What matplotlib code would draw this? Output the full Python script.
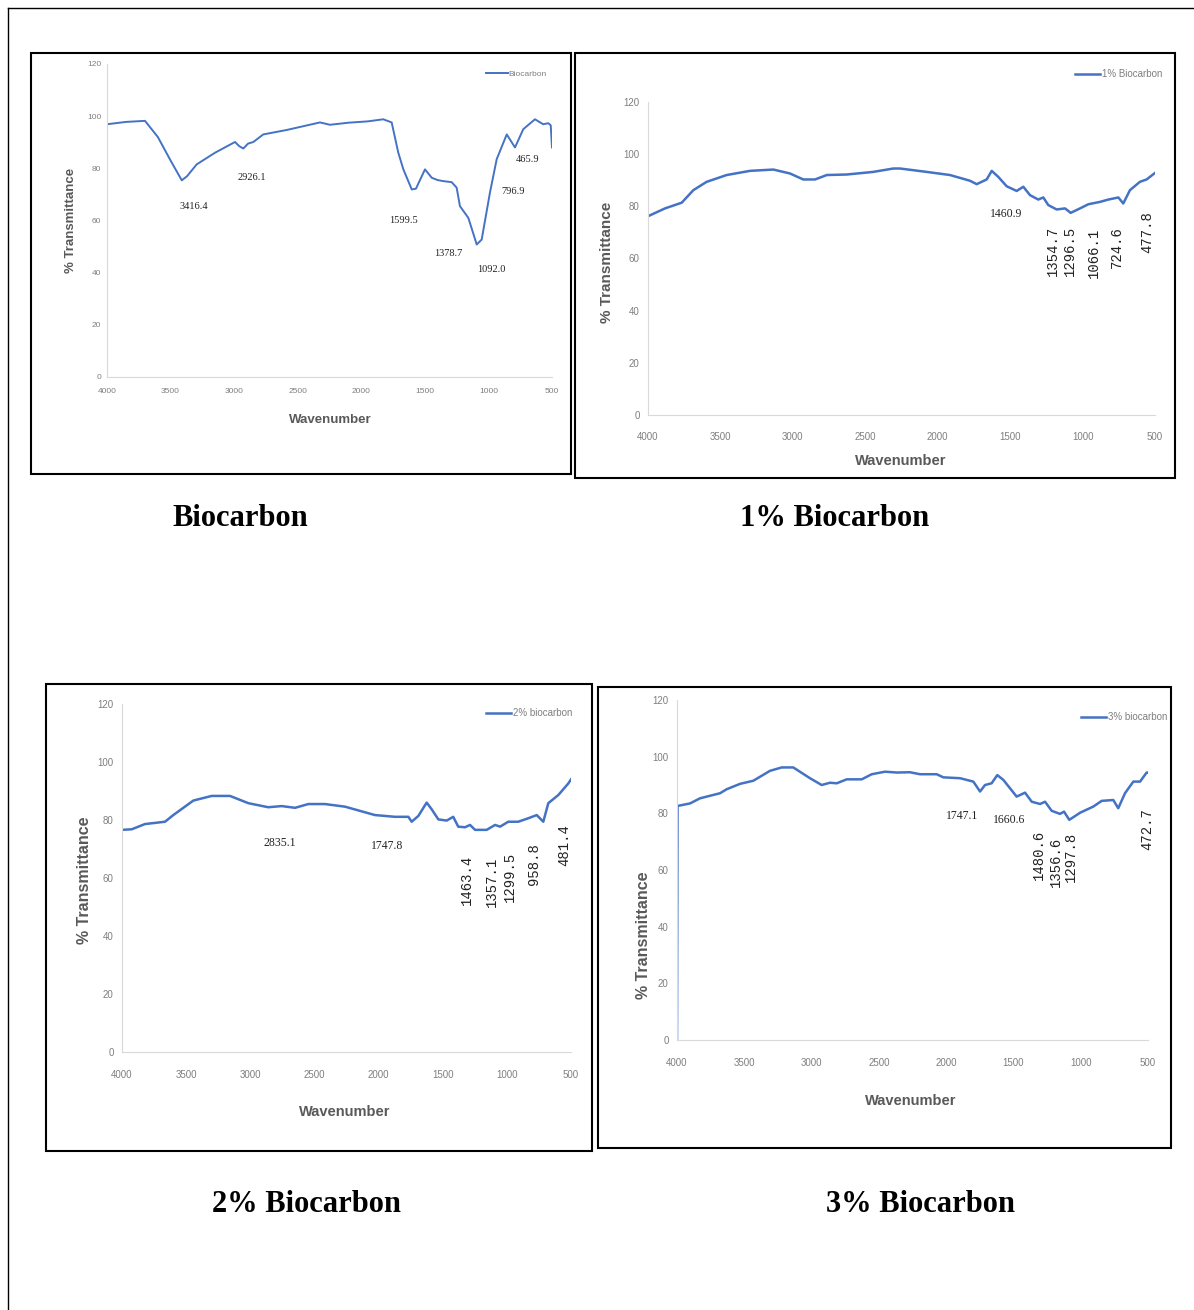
import matplotlib
matplotlib.use('Agg')
import matplotlib.pyplot as plt
from matplotlib.patches import Rectangle
from matplotlib.lines import Line2D

plt.rcParams['font.family'] = ['Liberation Sans Narrow', 'Liberation Sans']

W, H = 1194, 1310

########## DATA ##########

bio_wn = [4000, 3850, 3701, 3600, 3500, 3412, 3370, 3295, 3150, 2993, 2960, 2928, 2890,
          2849, 2771, 2587, 2325, 2246, 2100, 1950, 1827, 1761, 1709, 1669, 1603, 1570,
          1499, 1446, 1400, 1355, 1289, 1250, 1224, 1158, 1092, 1053, 988, 935, 856, 791,
          726, 634, 569, 529, 510, 500]
bio_t = [96.9, 97.8, 98.2, 92.0, 83.0, 75.4, 77.0, 81.5, 86.0, 90.1, 88.5, 87.6, 89.5,
         90.1, 93.0, 94.7, 97.6, 96.7, 97.5, 98.0, 98.8, 97.6, 86.0, 79.6, 71.9, 72.2,
         79.6, 76.4, 75.5, 75.1, 74.7, 72.6, 65.5, 61.0, 50.8, 52.7, 70.7, 83.5, 93.0, 88.0,
         95.0, 98.8, 96.9, 97.3, 96.5, 88.0]

one_wn = [4000, 3883, 3767, 3687, 3595, 3457, 3296, 3135, 3020, 2928, 2847, 2766, 2628,
          2445, 2307, 2260, 2076, 1915, 1777, 1731, 1662, 1627, 1582, 1524, 1455, 1409,
          1363, 1306, 1271, 1237, 1179, 1121, 1082, 1018, 960, 880, 822, 753, 719, 673,
          604, 558, 500]
one_t = [76.2, 79.2, 81.4, 86.2, 89.4, 92.0, 93.6, 94.1, 92.6, 90.3, 90.3, 92.0, 92.2,
         93.2, 94.5, 94.5, 93.2, 92.0, 89.8, 88.5, 90.3, 93.6, 91.3, 87.7, 85.9, 87.5,
         84.3, 82.6, 83.4, 80.5, 78.8, 79.2, 77.5, 79.2, 80.8, 81.7, 82.6, 83.4, 81.1, 86.2,
         89.4, 90.3, 92.8]

two_wn = [4000, 3924, 3821, 3665, 3600, 3444, 3301, 3158, 3015, 2860, 2755, 2651, 2548,
          2418, 2262, 2028, 1872, 1768, 1742, 1690, 1625, 1586, 1534, 1469, 1418, 1379,
          1326, 1287, 1248, 1157, 1092, 1053, 989, 911, 833, 767, 716, 677, 599, 521, 500]
two_t = [76.6, 76.8, 78.6, 79.4, 81.7, 86.7, 88.3, 88.3, 85.8, 84.4, 84.8, 84.2, 85.5,
         85.5, 84.6, 81.7, 81.1, 81.1, 79.4, 81.4, 86.0, 83.7, 80.2, 79.8, 81.1, 77.7,
         77.5, 78.3, 76.6, 76.6, 78.3, 77.7, 79.4, 79.4, 80.6, 81.7, 79.4, 85.8, 88.6, 92.6,
         94.0]

three_wn = [4000, 3996, 3903, 3829, 3680, 3631, 3532, 3433, 3309, 3222, 3136, 3012, 2925,
            2863, 2813, 2739, 2627, 2553, 2454, 2367, 2269, 2194, 2070, 2021, 1897, 1798,
            1748, 1711, 1662, 1620, 1575, 1476, 1414, 1364, 1302, 1265, 1216, 1154, 1124,
            1085, 1005, 906, 844, 758, 721, 671, 609, 559, 510, 500]
three_t = [0.0, 82.6, 83.5, 85.3, 87.1, 88.5, 90.4, 91.5, 95.0, 96.2, 96.2, 92.4, 90.0,
           90.8, 90.6, 92.0, 92.0, 93.8, 94.7, 94.4, 94.5, 93.8, 93.8, 92.7, 92.4, 91.2,
           87.7, 90.0, 90.6, 93.5, 91.8, 85.9, 87.3, 84.1, 83.3, 84.1, 80.9, 79.8, 80.6,
           77.7, 80.2, 82.4, 84.4, 84.7, 81.8, 87.1, 91.2, 91.2, 94.4, 94.4]

series_names = ['Biocarbon', '1% Biocarbon', '2% biocarbon', '3% biocarbon']
captions = ['Biocarbon', '1% Biocarbon', '2% Biocarbon', '3% Biocarbon']

# peak labels: flat ones and the ones written bottom-to-top
bio_flat = ['3416.4', '2926.1', '1599.5', '1378.7', '1092.0', '796.9', '465.9']
bio_up = []
one_flat = ['1460.9']
one_up = ['1354.7', '1296.5', '1066.1', '724.6', '477.8']
two_flat = ['2835.1', '1747.8']
two_up = ['1463.4', '1357.1', '1299.5', '958.8', '481.4']
three_flat = ['1747.1', '1660.6']
three_up = ['1480.6', '1356.6', '1297.8', '472.7']

########## LAYOUT ##########

# where each label sits, in (wavenumber, %T)
bio_flat_xy = [(3316, 65.4), (2860, 76.5), (1664, 60.0), (1318, 47.3), (980, 41.2),
               (807, 71.2), (689, 83.5)]
one_flat_xy = [(1529, 77.0)]
one_up_xy = [(1204, 62.8), (1087, 62.8), (921, 62.1), (763, 64.4), (555, 70.1)]
two_flat_xy = [(2768, 72.1), (1934, 71.0)]
two_up_xy = [(1311, 59.3), (1116, 58.6), (976, 60.3), (788, 64.8), (555, 71.4)]
three_flat_xy = [(1882, 79.2), (1533, 77.8)]
three_up_xy = [(1310, 65.3), (1184, 62.8), (1072, 64.6), (507, 74.5)]

panels = [
    dict(frame=(31, 53, 571, 474), box=(107, 64, 552, 377), wn=bio_wn, t=bio_t,
         leg=(547, 70), xl=(330, 420), yl=(71, 220), cap=(240, 519), fs=6.0, lw=1.4,
         ylfs=9.5, flat=bio_flat, flat_xy=bio_flat_xy, up=bio_up, up_xy=[], xpad=8, ypad=4),
    dict(frame=(575, 53, 1175, 478), box=(648, 102, 1155, 415), wn=one_wn, t=one_t,
         leg=(1162, 69), xl=(901, 461), yl=(607, 262), cap=(835, 519), fs=7.0, lw=1.8,
         ylfs=11, flat=one_flat, flat_xy=one_flat_xy, up=one_up, up_xy=one_up_xy, xpad=12, ypad=6),
    dict(frame=(46, 684, 592, 1151), box=(122, 704, 571, 1052), wn=two_wn, t=two_t,
         leg=(572, 708), xl=(345, 1112), yl=(85, 880), cap=(307, 1204), fs=7.0, lw=1.8,
         ylfs=11.5, flat=two_flat, flat_xy=two_flat_xy, up=two_up, up_xy=two_up_xy, xpad=13, ypad=6),
    dict(frame=(598, 687, 1171, 1148), box=(677, 700, 1148, 1040), wn=three_wn, t=three_t,
         leg=(1167, 712), xl=(911, 1101), yl=(643, 935), cap=(921, 1204), fs=7.0, lw=1.8,
         ylfs=11.5, flat=three_flat, flat_xy=three_flat_xy, up=three_up, up_xy=three_up_xy, xpad=13, ypad=6),
]

fig = plt.figure(figsize=(W / 100, H / 100), dpi=100)

# page border (top and left edge of the scanned page)
fig.add_artist(Line2D([8 / W, 1], [1 - 8 / H, 1 - 8 / H], color='black', lw=1))
fig.add_artist(Line2D([8 / W, 8 / W], [0, 1 - 8 / H], color='black', lw=1))

for p, name, cap in zip(panels, series_names, captions):
    l, t, r, b = p['frame']
    fig.add_artist(Rectangle((l / W, 1 - b / H), (r - l) / W, (b - t) / H,
                             transform=fig.transFigure, fill=False, ec='black', lw=1.5))

    l, t, r, b = p['box']
    ax = fig.add_axes([l / W, 1 - b / H, (r - l) / W, (b - t) / H])
    ax.plot(p['wn'], p['t'], color='#4472C4', lw=p['lw'], label=name)
    ax.set_xlim(4000, 500)
    ax.set_ylim(0, 120)
    ax.set_xticks(range(4000, 499, -500))
    ax.set_yticks(range(0, 121, 20))
    ax.tick_params(length=0, labelsize=p['fs'], labelcolor='#7f7f7f')
    ax.tick_params(axis='x', pad=p['xpad'])
    ax.tick_params(axis='y', pad=p['ypad'])
    for side in ['top', 'right']:
        ax.spines[side].set_visible(False)
    for side in ['left', 'bottom']:
        ax.spines[side].set_color('#d9d9d9')
        ax.spines[side].set_linewidth(0.8)
    ax.patch.set_alpha(0)

    lx, ly = p['leg']
    ax.legend(loc='upper right', bbox_to_anchor=(lx / W, 1 - ly / H),
              bbox_transform=fig.transFigure, frameon=False, fontsize=p['fs'],
              handlelength=2.6, handletextpad=0.15, borderpad=0, borderaxespad=0,
              labelcolor='#7f7f7f')

    for txt, (x, y) in zip(p['flat'], p['flat_xy']):
        ax.text(x, y, txt, ha='center', va='center', fontsize=p['fs'] + 1.5,
                family='Liberation Serif', color='#222222')
    for txt, (x, y) in zip(p['up'], p['up_xy']):
        ax.text(x, y, txt, ha='center', va='center', rotation=90, fontsize=10,
                family='Liberation Mono', color='#222222')

    fig.text(p['xl'][0] / W, 1 - p['xl'][1] / H, 'Wavenumber', ha='center', va='center',
             fontsize=p['fs'] + 3.5, fontweight='bold', color='#595959')
    fig.text(p['yl'][0] / W, 1 - p['yl'][1] / H, '% Transmittance', ha='center',
             va='center', rotation=90, fontsize=p['ylfs'], fontweight='bold',
             family='Liberation Sans', color='#595959')
    fig.text(p['cap'][0] / W, 1 - p['cap'][1] / H, cap, ha='center', va='center',
             fontsize=22, fontweight='bold', family='Liberation Serif', color='black')

fig.savefig('out.png', dpi=100)
